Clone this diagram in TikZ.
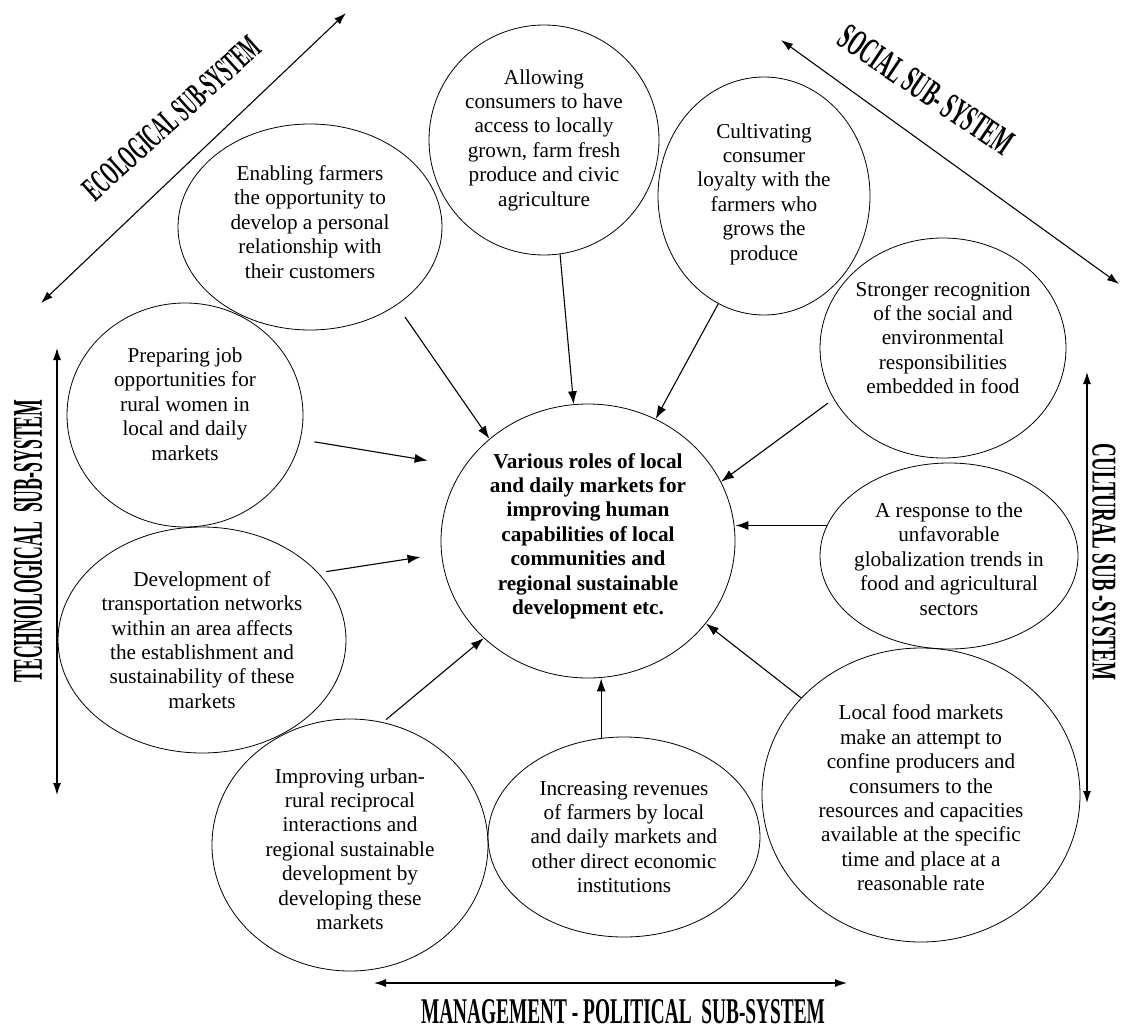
\documentclass[tikz,border=0pt]{standalone}
\usepackage{fontspec}
\setmainfont{Liberation Serif}
\usepackage{graphicx}
\usetikzlibrary{positioning,shapes.geometric,arrows.meta}

\newcommand{\subsys}[3]{\resizebox{#1}{#2}{\bfseries #3}}

\begin{document}
\begin{tikzpicture}[x=1pt,y=-1pt]
\tikzstyle{every node}+=[inner sep=0pt]
\tikzstyle{bubble}=[ellipse,draw=black,line width=0.8pt]
\tikzstyle{txt}=[align=center,font={\fontsize{21.2}{24.4}\selectfont}]
\tikzstyle{link}=[-{Latex[length=13pt,width=9pt]},line width=1.1pt]
\tikzstyle{sysarrow}=[{Latex[length=12pt,width=8pt]}-{Latex[length=12pt,width=8pt]},line width=1.1pt]
\fill [white] (0,0) rectangle (1121,1030);
\useasboundingbox (0,0) rectangle (1121,1030);
\node [bubble,minimum width=294pt,minimum height=274pt] (roles) at (588,541) {};
\node [txt,font={\fontsize{21.2}{24.4}\selectfont\bfseries}] (roles-t) at ([yshift=5pt]roles.center) {Various roles of local\\and daily markets for\\improving human\\capabilities of local\\communities and\\regional sustainable\\development etc.};
\node [bubble,minimum width=264pt,minimum height=206pt] (enab) at (310,227) {};
\node [txt] (enab-t) at ([yshift=5pt]enab.center) {Enabling farmers\\the opportunity to\\develop a personal\\relationship with\\their customers};
\node [bubble,minimum width=230pt,minimum height=230pt] (allow) at (544,140) {};
\node [txt] (allow-t) at (allow.center) {Allowing\\consumers to have\\access to locally\\grown, farm fresh\\produce and civic\\agriculture};
\node [bubble,minimum width=212pt,minimum height=238pt] (cult) at (764,196) {};
\node [txt] (cult-t) at ([yshift=2pt]cult.center) {Cultivating\\consumer\\loyalty with the\\farmers who\\grows the\\produce};
\node [bubble,minimum width=246pt,minimum height=220pt] (strong) at (943,348) {};
\node [txt] (strong-t) at ([yshift=10pt]strong.center) {Stronger recognition\\of the social and\\environmental\\responsibilities\\embedded in food};
\node [bubble,minimum width=236pt,minimum height=224pt] (prep) at (185,415) {};
\node [txt] (prep-t) at ([yshift=11pt]prep.center) {Preparing job\\opportunities for\\rural women in\\local and daily\\markets};
\node [bubble,minimum width=288pt,minimum height=226pt] (dev) at (202,640) {};
\node [txt] (dev-t) at (dev.center) {Development of\\transportation networks\\within an area affects\\the establishment and\\sustainability of these\\markets};
\node [bubble,minimum width=258pt,minimum height=186pt] (resp) at (949,556) {};
\node [txt] (resp-t) at ([yshift=-3pt]resp.center) {A response to the\\unfavorable\\globalization trends in\\food and agricultural\\sectors};
\node [bubble,minimum width=318pt,minimum height=294pt] (local) at (921,795) {};
\node [txt] (local-t) at ([yshift=-3pt]local.center) {Local food markets\\make an attempt to\\confine producers and\\consumers to the\\resources and capacities\\available at the specific\\time and place at a\\reasonable rate};
\node [bubble,minimum width=276pt,minimum height=252pt] (impr) at (350,845) {};
\node [txt] (impr-t) at ([yshift=-4pt]impr.center) {Improving urban-\\rural reciprocal\\interactions and\\regional sustainable\\development by\\developing these\\markets};
\node [bubble,minimum width=272pt,minimum height=200pt] (incr) at (624,837) {};
\node [txt] (incr-t) at (incr.center) {Increasing revenues\\of farmers by local\\and daily markets and\\other direct economic\\institutions};
\draw [link,shorten <=14.5pt] (enab.-42.3) -- (roles.134.2);
\draw [link] (allow.-82.5) -- (roles.96.6);
\draw [link] (cult.247) -- (roles.61.1);
\draw [link,shorten <=7pt] (strong.205.5) -- (roles.24.8);
\draw [link] (resp.166.9) -- (resp.166.9 -| roles.east);
\draw [link] (local.141.1) -- (roles.-35.2);
\draw [link] (incr.103.7) -- (incr.103.7 |- roles.south);
\draw [link,shorten <=4pt] (impr.75) -- (roles.223.8);
\draw [link,shorten <=8pt,shorten >=21pt] (dev.30) -- (roles.185.9);
\draw [link,shorten <=14pt,shorten >=37pt] (prep.-12.1) -- (roles.149.7);
\coordinate (eco-a) at (41,303);
\coordinate (eco-b) at (346,13);
\coordinate (soc-a) at (781,40);
\coordinate (soc-b) at (1119,284);
\coordinate (tech-a) at (57,348);
\coordinate (tech-b) at (57,795);
\coordinate (cult-a) at (1087,372);
\coordinate (cult-b) at (1087,803);
\coordinate (mgmt-a) at (374,983);
\coordinate (mgmt-b) at (847,983);
\draw [sysarrow] (eco-a) -- (eco-b);
\draw [sysarrow] (soc-a) -- (soc-b);
\draw [sysarrow] (tech-a) -- (tech-b);
\draw [sysarrow] (cult-a) -- (cult-b);
\draw [sysarrow] (mgmt-a) -- (mgmt-b);
\node [rotate=42] (eco-lbl) at (172,118) {\subsys{226pt}{23pt}{ECOLOGICAL SUB-SYSTEM}};
\node [rotate=-34] (soc-lbl) at (926,90) {\subsys{202pt}{25pt}{SOCIAL SUB- SYSTEM}};
\node [rotate=90] (tech-lbl) at (28,541) {\subsys{283pt}{28pt}{TECHNOLOGICAL\ \ SUB-SYSTEM}};
\node [rotate=-90] (cult-lbl) at (1104,562) {\subsys{237pt}{23pt}{CULTURAL SUB -SYSTEM}};
\node (mgmt-lbl) at (623,1012) {\subsys{404pt}{24pt}{MANAGEMENT - POLITICAL\ \ SUB-SYSTEM}};
\end{tikzpicture}
\end{document}
